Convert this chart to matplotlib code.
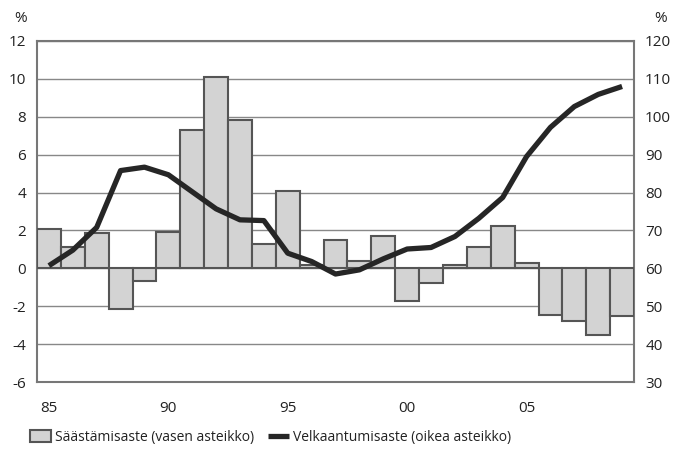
import matplotlib
matplotlib.use("Agg")
import matplotlib.pyplot as plt
import numpy as np

years = list(range(1985, 2010))
saving = [2.1, 1.1, 1.85, -2.15, -0.65, 1.9, 7.3, 10.1, 7.85, 1.3, 4.1, 0.2, 1.5,
          0.4, 1.7, -1.7, -0.75, 0.15, 1.15, 2.25, 0.3, -2.45, -2.8, -3.5, -2.5]
debt = [60.7, 64.8, 70.8, 85.8, 86.7, 84.7, 80.2, 75.7, 72.8, 72.6, 64.0, 61.8, 58.5,
        59.6, 62.5, 65.1, 65.5, 68.4, 73.2, 78.7, 89.5, 97.2, 102.7, 105.9, 108.0]
xlabels = ["85", "90", "95", "00", "05"]

plt.rcParams["font.family"] = ["Open Sans", "DejaVu Sans"]
fs = 11
txt = "#222222"
frame = "#777777"

fig = plt.figure(figsize=(6.75, 4.57), dpi=100)
ax = fig.add_axes([0.0548, 0.1641, 0.8845, 0.7462])
x = np.arange(len(years))
ax.bar(x, saving, width=1.0, color="#d3d3d3", edgecolor="#555555", linewidth=1.5,
       zorder=3, label="Säästämisaste (vasen asteikko)")
ax.set_xlim(-0.5, len(years) - 0.5)
ax.set_ylim(-6, 12)
ax.set_yticks(np.arange(-6, 13, 2))
ax.set_yticklabels([str(v) for v in range(-6, 13, 2)])
ax.set_xticks(x[::5])
ax.set_xticklabels(xlabels)
ax.yaxis.grid(True, color="#888888", linewidth=1.0, zorder=0)
ax.set_axisbelow(True)
for s in ax.spines.values():
    s.set_color(frame)
    s.set_linewidth(1.5)
ax.tick_params(length=0, labelsize=fs, colors=txt, pad=8)
ax.tick_params(axis="x", pad=14)

ax2 = ax.twinx()
ax2.plot(x, debt, color="#262626", linewidth=3.8, solid_capstyle="butt", zorder=4,
         label="Velkaantumisaste (oikea asteikko)")
ax2.set_ylim(30, 120)
ax2.set_yticks(np.arange(30, 121, 10))
ax2.tick_params(length=0, labelsize=fs, colors=txt, pad=8)
for s in ax2.spines.values():
    s.set_visible(False)

fig.text(0.03, 0.96, "%", fontsize=fs, color=txt, ha="center", va="center")
fig.text(0.978, 0.96, "%", fontsize=fs, color=txt, ha="center", va="center")

h1, l1 = ax.get_legend_handles_labels()
h2, l2 = ax2.get_legend_handles_labels()
fig.legend(h1 + h2, l1 + l2, loc="center left", bbox_to_anchor=(0.044, 0.043), ncol=2,
           frameon=False, fontsize=10, handlelength=1.5, handleheight=0.9,
           columnspacing=1.0, handletextpad=0.3, labelcolor=txt,
           borderaxespad=0, borderpad=0)

fig.savefig("out.png", dpi=100)
